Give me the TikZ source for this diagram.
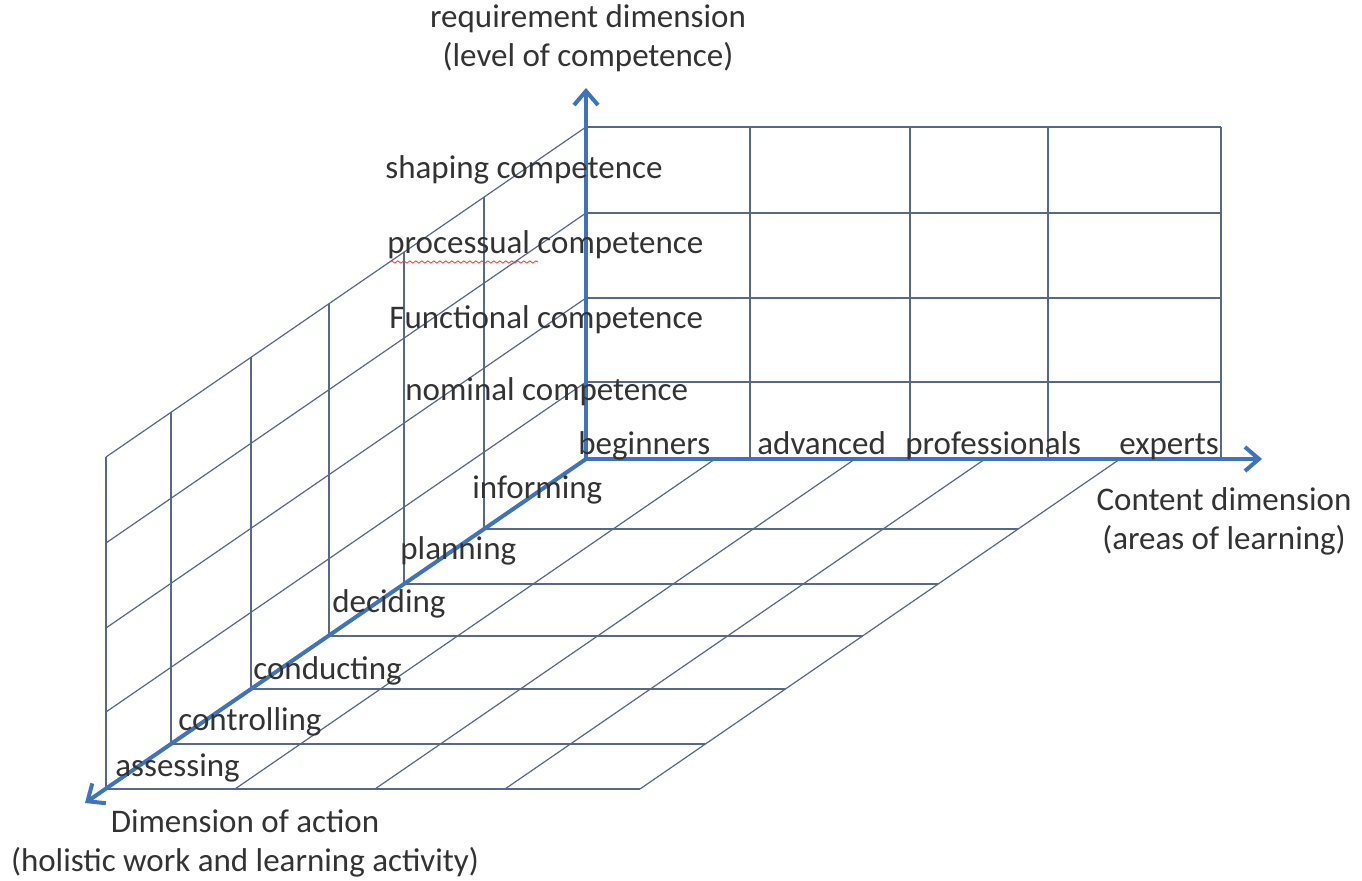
\documentclass[tikz,border=0pt]{standalone}
\usepackage{fontspec}
\setmainfont{Carlito}
\usetikzlibrary{arrows.meta,decorations.pathmorphing}
\definecolor{gridc}{HTML}{56688C}
\definecolor{axisc}{HTML}{3F74BC}
\definecolor{txt}{HTML}{333333}
\begin{document}
\begin{tikzpicture}[x=0.5pt,y=-0.5pt,
  gridline/.style={draw=gridc,line width=0.6pt},
  axisline/.style={draw=axisc,line width=2pt,-{Straight Barb[length=7pt,width=12pt]}},
  lbl/.style={text=txt,font=\fontsize{16.5}{20}\selectfont,inner sep=0pt},
  twolbl/.style={lbl,align=center,font=\fontsize{16.5}{19.5}\selectfont}]
\useasboundingbox (0,0) rectangle (1362,881);
\coordinate (O) at (586,459);
\coordinate (Ytip) at (586,88);
\coordinate (Xtip) at (1262,459);
\coordinate (Ztip) at (85,803);
% back wall
\foreach \y in {127,213,298,382} \draw[gridline] (586,\y) -- (1221,\y);
\foreach \x in {750,910,1048,1221} \draw[gridline] (\x,127) -- (\x,459);
% left wall slanted lines
\foreach \h in {332,246,161,77} \draw[gridline] (586,{459-\h}) -- (106,{789-\h});
% left wall verticals and floor horizontals
\foreach \dx/\dy in {-102/70,-182/125,-257/177,-335/230,-415/285,-480/330} {
  \draw[gridline] ({586+\dx},{459+\dy}) -- ({586+\dx},{127+\dy});
  \draw[gridline] ({586+\dx},{459+\dy}) -- ({1120+\dx},{459+\dy});
}
% floor slanted lines
\foreach \x in {715,855,985,1120} \draw[gridline] (\x,459) -- ({\x-480},789);
% axes
\draw[axisline] (O) -- (Ytip);
\draw[axisline] (O) -- (Xtip);
\draw[axisline] (O) -- (Ztip);
% labels
\node[twolbl] (ytitle) at (588,38) {requirement dimension\\(level of competence)};
\node[twolbl] (xtitle) at (1224,521) {Content dimension\\(areas of learning)};
\node[twolbl] (ztitle) at (245,843) {Dimension of action\\(holistic work and learning activity)};
\node[lbl,anchor=base west] (l1) at (385,179) {shaping competence};
\node[lbl,anchor=base west] (l2) at (387,254) {processual competence};
\node[lbl,anchor=base west] (l3) at (389,329) {Functional competence};
\node[lbl,anchor=base west] (l4) at (405,401) {nominal competence};
\node[lbl,anchor=base west] (c1) at (578,455) {beginners};
\node[lbl,anchor=base west] (c2) at (757,455) {advanced};
\node[lbl,anchor=base west] (c3) at (905,455) {professionals};
\node[lbl,anchor=base west] (c4) at (1119,455) {experts};
\node[lbl,anchor=base west] (a1) at (472,499) {informing};
\node[lbl,anchor=base west] (a2) at (400,560) {planning};
\node[lbl,anchor=base west] (a3) at (332,613) {deciding};
\node[lbl,anchor=base west] (a4) at (253,680) {conducting};
\node[lbl,anchor=base west] (a5) at (178,731) {controlling};
\node[lbl,anchor=base west] (a6) at (115,777) {assessing};
% spell-check underline
\draw[red!80!white,line width=0.4pt,decorate,decoration={snake,amplitude=0.6pt,segment length=3pt}]
  (390,262) -- (538,262);
\end{tikzpicture}
\end{document}
